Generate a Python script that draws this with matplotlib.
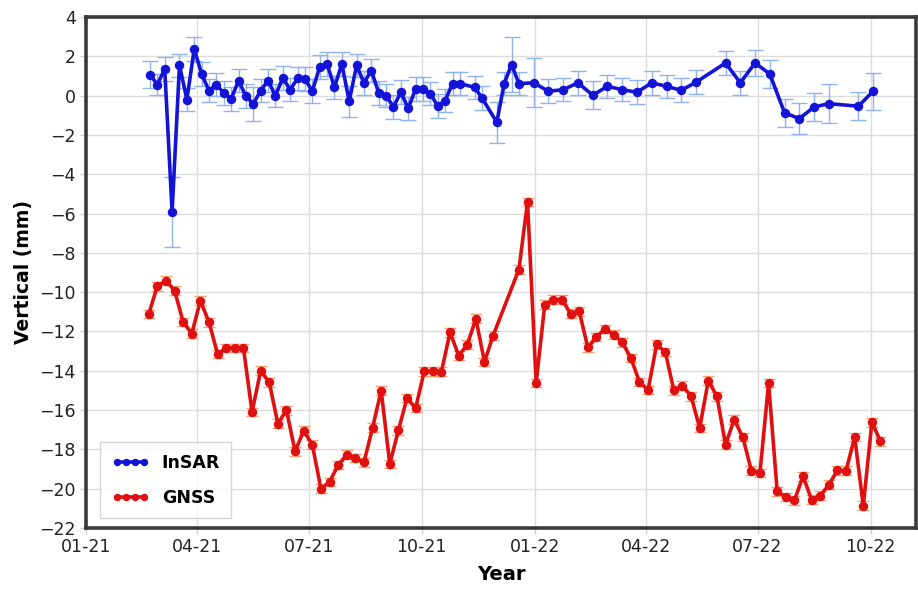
import matplotlib
matplotlib.use("Agg")
import matplotlib.pyplot as plt
import numpy as np
import pandas as pd

# ---------------- data ----------------
# days since 2021-01-01
insar_days = [52, 58, 64, 70, 76, 82, 88, 94, 100, 106, 112, 118, 124, 130, 136, 142,
              148, 154, 160, 166, 172, 178, 184, 190, 196, 202, 208, 214, 220, 226, 232,
              238, 244, 250, 256, 262, 268, 274, 280, 286, 292, 298, 304,
              316, 322, 334, 340, 346, 352, 364, 376, 388, 400, 412, 424, 436, 448, 460,
              472, 484, 496, 520, 532, 544, 556, 568, 580, 592, 604, 628, 640]
insar_vals = [1.07, 0.56, 1.36, -5.92, 1.54, -0.20, 2.37, 1.10, 0.25, 0.56, 0.13, -0.17,
              0.76, -0.03, -0.42, 0.25, 0.76, 0.00, 0.90, 0.30, 0.87, 0.85, 0.22, 1.46,
              1.61, 0.42, 1.61, -0.29, 1.54, 0.65, 1.27, 0.14, 0.00, -0.58, 0.17, -0.65,
              0.34, 0.34, 0.10, -0.54, -0.25, 0.61, 0.61,
              0.42, -0.12, -1.36, 0.61, 1.58, 0.61, 0.65, 0.22, 0.30, 0.65, 0.02, 0.47,
              0.30, 0.17, 0.65, 0.47, 0.27, 0.68, 1.66, 0.65, 1.66, 1.10, -0.88, -1.17,
              -0.58, -0.41, -0.54, 0.22]
insar_err = [0.70, 0.55, 0.60, 1.80, 0.60, 0.60, 0.62, 0.60, 0.60, 0.60, 0.60, 0.60,
             0.60, 0.60, 0.85, 0.60, 0.60, 0.60, 0.60, 0.60, 0.60, 0.60, 0.60, 0.60,
             0.60, 0.60, 0.60, 0.80, 0.60, 0.60, 0.60, 0.60, 0.60, 0.60, 0.60, 0.60,
             0.60, 0.60, 0.60, 0.60, 0.60, 0.60, 0.60,
             0.60, 0.60, 1.05, 0.60, 1.40, 0.60, 1.25, 0.60, 0.60, 0.60, 0.70, 0.60,
             0.60, 0.60, 0.60, 0.60, 0.60, 0.60, 0.60, 0.60, 0.65, 0.70, 0.70, 0.80,
             0.70, 1.00, 0.70, 0.93]

gnss_days = [51, 58, 65, 72, 79, 86, 93, 100, 107, 114, 121, 128, 135, 142, 149, 156,
             163, 170, 177, 184, 191, 198, 205, 212, 219, 226, 233, 240, 247, 254, 261,
             268, 275, 282, 289, 296, 303, 310, 317, 324, 331,
             352, 359, 366, 373, 380, 387, 394, 401, 408, 415, 422, 429, 436, 443, 450,
             457, 464, 471, 478, 485, 492, 499, 506, 513, 520, 527, 534, 541, 548, 555,
             562, 569, 576, 583, 590, 597, 604, 611, 618, 625, 632, 639, 646]
gnss_vals = [-11.11, -9.70, -9.41, -9.92, -11.52, -12.11, -10.43, -11.53, -13.15, -12.84,
             -12.84, -12.84, -16.10, -14.00, -14.59, -16.69, -16.01, -18.10, -17.05, -17.76,
             -20.00, -19.66, -18.80, -18.27, -18.44, -18.66, -16.90, -15.01, -18.75, -17.03,
             -15.39, -15.90, -14.03, -14.03, -14.05, -12.04, -13.23, -12.67, -11.35, -13.55,
             -12.21,
             -8.85, -5.41, -14.62, -10.64, -10.38, -10.38, -11.09, -10.98, -12.81, -12.28,
             -11.87, -12.16, -12.55, -13.35, -14.57, -14.98, -12.66, -13.05, -15.00, -14.76,
             -15.30, -16.91, -14.50, -15.30, -17.76, -16.49, -17.37, -19.08, -19.20, -14.62,
             -20.14, -20.42, -20.59, -19.37, -20.56, -20.36, -19.80, -19.07, -19.08, -17.37,
             -20.87, -16.62, -17.59]
gnss_err = 0.22

tick_dates = ["2021-01-01", "2021-04-01", "2021-07-01", "2021-10-01",
              "2022-01-01", "2022-04-01", "2022-07-01", "2022-10-01"]
tick_labels = ["01-21", "04-21", "07-21", "10-21", "01-22", "04-22", "07-22", "10-22"]
y_ticks = list(range(-22, 5, 2))

# ---------------- plot ----------------
base = pd.Timestamp("2021-01-01")
insar_t = base + pd.to_timedelta(insar_days, unit="D")
gnss_t = base + pd.to_timedelta(gnss_days, unit="D")

plt.rcParams["font.family"] = ["DejaVu Sans"]

fig = plt.figure(figsize=(9.18, 6.06), dpi=100)
ax = fig.add_axes([0.0937, 0.1287, 0.9043, 0.8433])

ax.errorbar(insar_t, insar_vals, yerr=insar_err, fmt="none", ecolor="#8fb2f0",
            elinewidth=1.0, capsize=5.5, capthick=1.0, zorder=2)
ax.plot(insar_t, insar_vals, "-o", color="#1414d8", lw=2.6, ms=5.8, zorder=3,
        label="InSAR")

ax.errorbar(gnss_t, gnss_vals, yerr=gnss_err, fmt="none", ecolor="#f5a070",
            elinewidth=1.0, capsize=4.5, capthick=1.0, zorder=2)
ax.plot(gnss_t, gnss_vals, "-o", color="#e01010", lw=2.6, ms=5.8, zorder=3,
        label="GNSS")

ax.set_xlim(pd.Timestamp("2021-01-01"), pd.Timestamp("2022-11-07"))
ax.set_ylim(-22, 4)
ax.set_xticks(pd.to_datetime(tick_dates))
ax.set_xticklabels(tick_labels)
ax.set_yticks(y_ticks)
ax.tick_params(axis="both", labelsize=12.5, length=4, width=1, color="#d0d0d0",
               labelcolor="#222222")
ax.grid(True, color="#dcdcdc", lw=1.0)
ax.set_axisbelow(True)

for s in ax.spines.values():
    s.set_color("#3a3a3a")
    s.set_linewidth(2.6)

ax.set_xlabel("Year", fontsize=14, fontweight="bold", labelpad=6)
ax.set_ylabel("Vertical (mm)", fontsize=13.5, fontweight="bold", labelpad=4)

leg = ax.legend(loc="lower left", bbox_to_anchor=(0.017, 0.019), borderaxespad=0,
                fancybox=False, edgecolor="#cccccc", numpoints=4, handlelength=2.2,
                markerscale=0.75,
                prop={"weight": "bold", "size": 12.5}, borderpad=0.65, labelspacing=1.0,
                handletextpad=0.7)
leg.get_frame().set_linewidth(1.0)

fig.savefig("out.png", dpi=100)
